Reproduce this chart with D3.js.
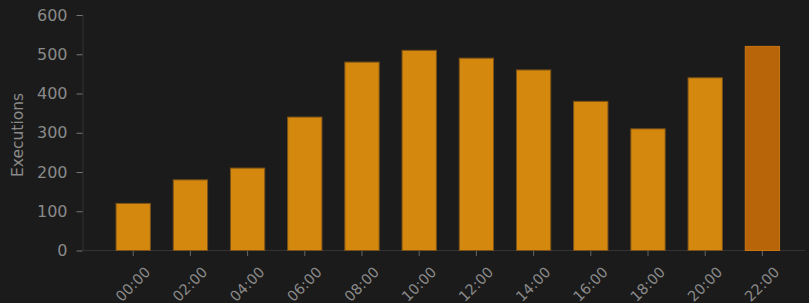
<!DOCTYPE html>
<html>
<head>
<meta charset="utf-8">
<script src="https://cdn.jsdelivr.net/npm/d3@7"></script>
<style>
  html, body { margin: 0; padding: 0; background: #1b1b1b; }
  svg { display: block; }
  text { font-family: "DejaVu Sans", sans-serif; }
</style>
</head>
<body>
<svg id="chart" width="809" height="303"></svg>
<script>
const hours = ["00:00","02:00","04:00","06:00","08:00","10:00","12:00","14:00","16:00","18:00","20:00","22:00"];
const executions = [120, 180, 210, 340, 480, 510, 490, 460, 380, 310, 440, 520];
const yTicks = [0, 100, 200, 300, 400, 500, 600];
const yLabel = "Executions";
const highlight = "22:00";

const W = 809, H = 303;
const svg = d3.select("#chart");
svg.append("rect").attr("width", W).attr("height", H).attr("fill", "#1b1b1b");

const axisX0 = 83, axisX1 = 805;
const y = d3.scaleLinear().domain([0, 600]).range([250.5, 15]);
const x = d3.scaleBand().domain(hours).range([90.3, 805.3]).paddingInner(0.4).paddingOuter(0.45);

// axis lines
svg.append("line").attr("x1", axisX0).attr("x2", axisX0).attr("y1", 14).attr("y2", 250.5)
  .attr("stroke", "#333").attr("stroke-width", 1);
svg.append("line").attr("x1", axisX0).attr("x2", axisX1).attr("y1", 250.5).attr("y2", 250.5)
  .attr("stroke", "#333").attr("stroke-width", 1);

// bars
svg.append("g").selectAll("rect").data(hours).join("rect")
  .attr("x", d => x(d))
  .attr("width", x.bandwidth())
  .attr("y", (d, i) => y(executions[i]))
  .attr("height", (d, i) => y(0) - y(executions[i]))
  .attr("fill", d => d === highlight ? "#b8650a" : "#d4880e")
  .attr("stroke", d => d === highlight ? "#c97512" : "#7a5218")
  .attr("stroke-width", 1);

// y axis
const yAxis = d3.axisLeft(y).tickValues(yTicks).tickSize(6).tickPadding(9).tickSizeOuter(0);
const gy = svg.append("g").attr("transform", `translate(${axisX0 - 0.5},0)`).call(yAxis);
gy.select(".domain").remove();
gy.selectAll(".tick line").attr("stroke", "#777");
gy.selectAll(".tick text").attr("fill", "#8a8a8a").style("font-size", "16px")
  .style("font-family", "'DejaVu Sans', sans-serif");

// x axis
const xAxis = d3.axisBottom(x).tickSize(5).tickSizeOuter(0);
const gx = svg.append("g").attr("transform", `translate(0,251)`).call(xAxis);
gx.select(".domain").remove();
gx.selectAll(".tick line").attr("stroke", "#666");
gx.selectAll(".tick text")
  .attr("fill", "#8a8a8a")
  .style("font-size", "14.5px")
  .style("font-family", "'DejaVu Sans', sans-serif")
  .attr("text-anchor", "end")
  .attr("dy", null).attr("y", null)
  .attr("transform", "translate(18,22) rotate(-45)");

// y label
svg.append("text")
  .attr("transform", "translate(23,135) rotate(-90)")
  .attr("text-anchor", "middle")
  .attr("fill", "#8a8a8a")
  .style("font-size", "15.5px")
  .text(yLabel);
</script>
</body>
</html>
